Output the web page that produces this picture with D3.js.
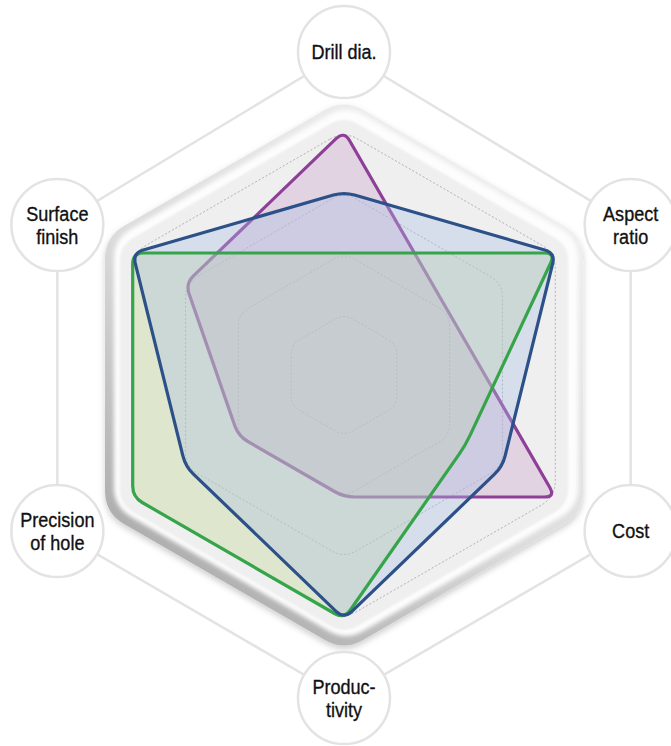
<!DOCTYPE html>
<html>
<head>
<meta charset="utf-8">
<script src="https://d3js.org/d3.v7.min.js"></script>
<style>
  html, body { margin: 0; padding: 0; background: #fff; }
  svg { display: block; }
  .lbl { font-family: "Liberation Sans Narrow", "Arial Narrow", "Liberation Sans", Arial, sans-serif; font-size: 21px; fill: #111; stroke: #111; stroke-width: 0.35px; }
</style>
</head>
<body>
<div id="chart"></div>
<script>
// axes, clockwise from the top
var axes = ["Drill dia.", "Aspect ratio", "Cost", "Productivity", "Precision of hole", "Surface finish"];
var axisLines = [["Drill dia."], ["Aspect", "ratio"], ["Cost"], ["Produc-", "tivity"], ["Precision", "of hole"], ["Surface", "finish"]];
var levels = [1, 2, 3, 4];

// series values on the 0..4 scale
var purpleVals = [4, 2, 4, 2, 2, 3];
var greenVals = [2, 4, 2.3, 4, 4, 4];
var blueVals = [3, 4, 3, 4, 3, 4];

var width = 671, height = 746;
var cx = 344, cy = 375;

var svg = d3.select("#chart").append("svg")
    .attr("width", width)
    .attr("height", height);

var r = d3.scaleLinear().domain([0, 4]).range([0, 244]);
var ang = d3.scaleLinear().domain([0, 6]).range([-Math.PI / 2, Math.PI * 1.5]);

function pt(i, v) {
    return [cx + r(v) * Math.cos(ang(i)), cy + r(v) * Math.sin(ang(i))];
}

// polygon with rounded corners
function toward(p, q, rad) {
    var dx = q[0] - p[0], dy = q[1] - p[1];
    var len = Math.sqrt(dx * dx + dy * dy);
    var t = Math.min(rad, len / 2) / len;
    return [p[0] + dx * t, p[1] + dy * t];
}
function roundPoly(pts, rad) {
    var n = pts.length, d = "";
    for (var i = 0; i < n; i++) {
        var p0 = pts[(i - 1 + n) % n], p1 = pts[i], p2 = pts[(i + 1) % n];
        var a = toward(p1, p0, rad), b = toward(p1, p2, rad);
        d += (i === 0 ? "M" : "L") + a[0] + "," + a[1] + "Q" + p1[0] + "," + p1[1] + " " + b[0] + "," + b[1];
    }
    return d + "Z";
}
function hexAt(rad) {
    return d3.range(6).map(function (i) {
        return [cx + rad * Math.cos(ang(i)), cy + rad * Math.sin(ang(i))];
    });
}

var defs = svg.append("defs");
var g1 = defs.append("linearGradient").attr("id", "rim")
    .attr("x1", "0.85").attr("y1", "0").attr("x2", "0.15").attr("y2", "1");
g1.append("stop").attr("offset", "0").attr("stop-color", "#f2f2f2");
g1.append("stop").attr("offset", "0.55").attr("stop-color", "#dcdcdc");
g1.append("stop").attr("offset", "1").attr("stop-color", "#a2a2a2");
defs.append("filter").attr("id", "shadow").attr("x", "-10%").attr("y", "-10%").attr("width", "120%").attr("height", "120%")
    .append("feDropShadow").attr("dx", 0).attr("dy", 3).attr("stdDeviation", 3)
    .attr("flood-color", "#000").attr("flood-opacity", 0.2);
defs.append("filter").attr("id", "soft")
    .append("feGaussianBlur").attr("stdDeviation", 2);
defs.append("filter").attr("id", "soft1")
    .append("feGaussianBlur").attr("stdDeviation", 1.2);

// outer label ring
var labelPos = d3.range(6).map(function (i) {
    var a = ang(i);
    var vert = Math.abs(Math.sin(a)) > 0.99;
    return [cx + 331 * Math.cos(a), cy + (vert ? 323 : 306) * Math.sin(a) + (vert ? 0 : 3)];
});
svg.append("path")
    .attr("d", "M" + labelPos.join("L") + "Z")
    .attr("fill", "none")
    .attr("stroke", "#e3e3e3")
    .attr("stroke-width", 2.5);

// frame
svg.append("path")
    .attr("d", roundPoly(hexAt(276), 22))
    .attr("fill", "url(#rim)")
    .attr("filter", "url(#shadow)");
svg.append("path")
    .attr("d", roundPoly(hexAt(268), 20))
    .attr("transform", "translate(2,-2)")
    .attr("fill", "#fdfdfd")
    .attr("filter", "url(#soft)");
svg.append("path")
    .attr("d", roundPoly(hexAt(259), 16))
    .attr("fill", "#efefef")
    .attr("filter", "url(#soft1)");

// dashed grid
svg.append("g").selectAll("path")
    .data(levels)
    .join("path")
    .attr("d", function (l) { return roundPoly(hexAt(r(l)), 8 + l * 2); })
    .attr("fill", "none")
    .attr("stroke", "#a9a9a9")
    .attr("stroke-width", 0.9)
    .attr("stroke-dasharray", "2,2");

// series: purple sits under the others, green and blue outlines on top
var series = [
    { vals: purpleVals, stroke: "#8e3f98", fill: "rgb(202,160,205)" },
    { vals: greenVals, stroke: "#36a44a", fill: "rgb(190,213,148)" },
    { vals: blueVals, stroke: "#2c5088", fill: "rgb(172,192,228)" }
];
series.forEach(function (s) {
    s.d = roundPoly(s.vals.map(function (v, i) { return pt(i, v); }), 11);
});
function outline(s) {
    svg.append("path")
        .attr("d", s.d)
        .attr("fill", "none")
        .attr("stroke", s.stroke)
        .attr("stroke-width", 3.2)
        .attr("stroke-linejoin", "round");
}
series.forEach(function (s, k) {
    svg.append("path")
        .attr("d", s.d)
        .attr("fill", s.fill)
        .attr("fill-opacity", 0.36);
    if (k === 0) outline(s);
});
outline(series[1]);
outline(series[2]);

// label circles
var lab = svg.append("g").selectAll("g")
    .data(axes)
    .join("g")
    .attr("transform", function (d, i) { return "translate(" + labelPos[i][0] + "," + labelPos[i][1] + ")"; });
lab.append("circle")
    .attr("r", 46)
    .attr("fill", "#fff")
    .attr("stroke", "#e3e3e3")
    .attr("stroke-width", 2.5);
lab.append("text")
    .attr("class", "lbl")
    .attr("text-anchor", "middle")
    .attr("transform", "scale(0.86,1)")
    .each(function (d, i) {
        var lines = axisLines[i];
        var t = d3.select(this);
        lines.forEach(function (ln, k) {
            t.append("tspan")
                .attr("x", 0)
                .attr("y", (k - (lines.length - 1) / 2) * 23 + 7)
                .text(ln);
        });
    });
</script>
</body>
</html>
